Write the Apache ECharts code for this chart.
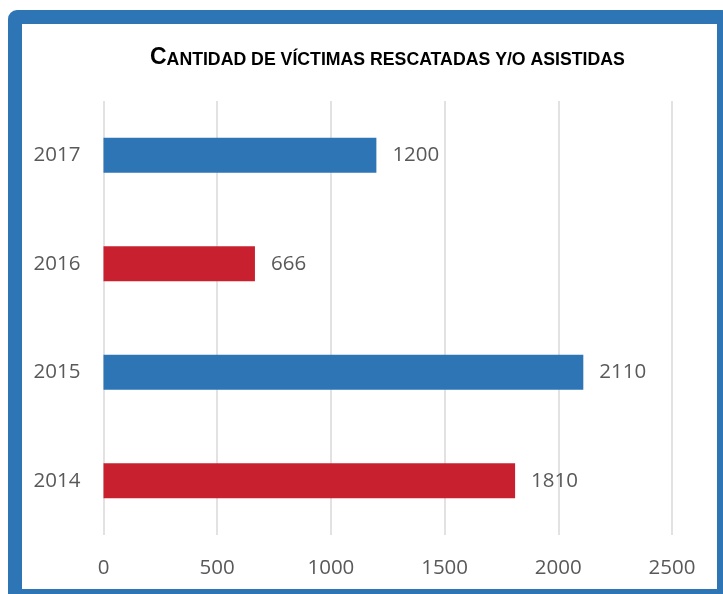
<!DOCTYPE html>
<html>
<head>
<meta charset="utf-8">
<script src="https://cdn.jsdelivr.net/npm/echarts@6/dist/echarts.min.js"></script>
<style>
  html, body { margin: 0; padding: 0; background: #fff; overflow: hidden; }
  #chart { position: absolute; left: 0; top: 0; width: 723px; height: 594px; }
  #frame {
    position: absolute; left: 8px; top: 10px;
    width: 695px; height: 565px;
    border: 14px solid #2E75B6; border-radius: 9px;
    pointer-events: none;
  }
</style>
</head>
<body>
<div id="chart"></div>
<div id="frame"></div>
<script>
// Victims rescued and/or assisted per year
const years = ['2014', '2015', '2016', '2017'];
const victims = [1810, 2110, 666, 1200];
const barColors = ['#C8202F', '#2E75B6', '#C8202F', '#2E75B6'];
const xTicks = { min: 0, max: 2500, interval: 500 };

const labelFont = '"Open Sans", sans-serif';
const textGray = '#595959';

const chart = echarts.init(document.getElementById('chart'));
chart.setOption({
  animation: false,
  backgroundColor: 'transparent',
  title: {
    text: '{b|C}{s|ANTIDAD DE VÍCTIMAS RESCATADAS Y/O ASISTIDAS}',
    left: 145,
    top: 41,
    textStyle: {
      rich: {
        b: { fontFamily: '"Liberation Sans", Arial, sans-serif', fontWeight: 'bold', fontSize: 23, color: '#000', verticalAlign: 'bottom' },
        s: { fontFamily: '"Liberation Sans", Arial, sans-serif', fontWeight: 'bold', fontSize: 17.7, color: '#000', verticalAlign: 'bottom' }
      }
    }
  },
  grid: { left: 103.5, right: 51, top: 101, bottom: 59, containLabel: false },
  xAxis: {
    type: 'value',
    min: xTicks.min,
    max: xTicks.max,
    interval: xTicks.interval,
    axisLine: { show: false },
    axisTick: { show: false },
    splitLine: { show: true, lineStyle: { color: '#D9D9D9', width: 1.5 } },
    axisLabel: {
      color: textGray, fontFamily: labelFont, fontSize: 20.5, margin: 23,
      formatter: (v) => String(v)
    }
  },
  yAxis: {
    type: 'category',
    data: years,
    axisLine: { show: false },
    axisTick: { show: false },
    splitLine: { show: false },
    axisLabel: { color: textGray, fontFamily: labelFont, fontSize: 20.5, margin: 23 }
  },
  series: [{
    type: 'bar',
    barWidth: 35,
    data: victims.map((v, i) => ({ value: v, itemStyle: { color: barColors[i] } })),
    label: {
      show: true,
      position: 'right',
      distance: 16,
      color: textGray,
      fontFamily: labelFont,
      fontSize: 20.5
    }
  }]
});
</script>
</body>
</html>
